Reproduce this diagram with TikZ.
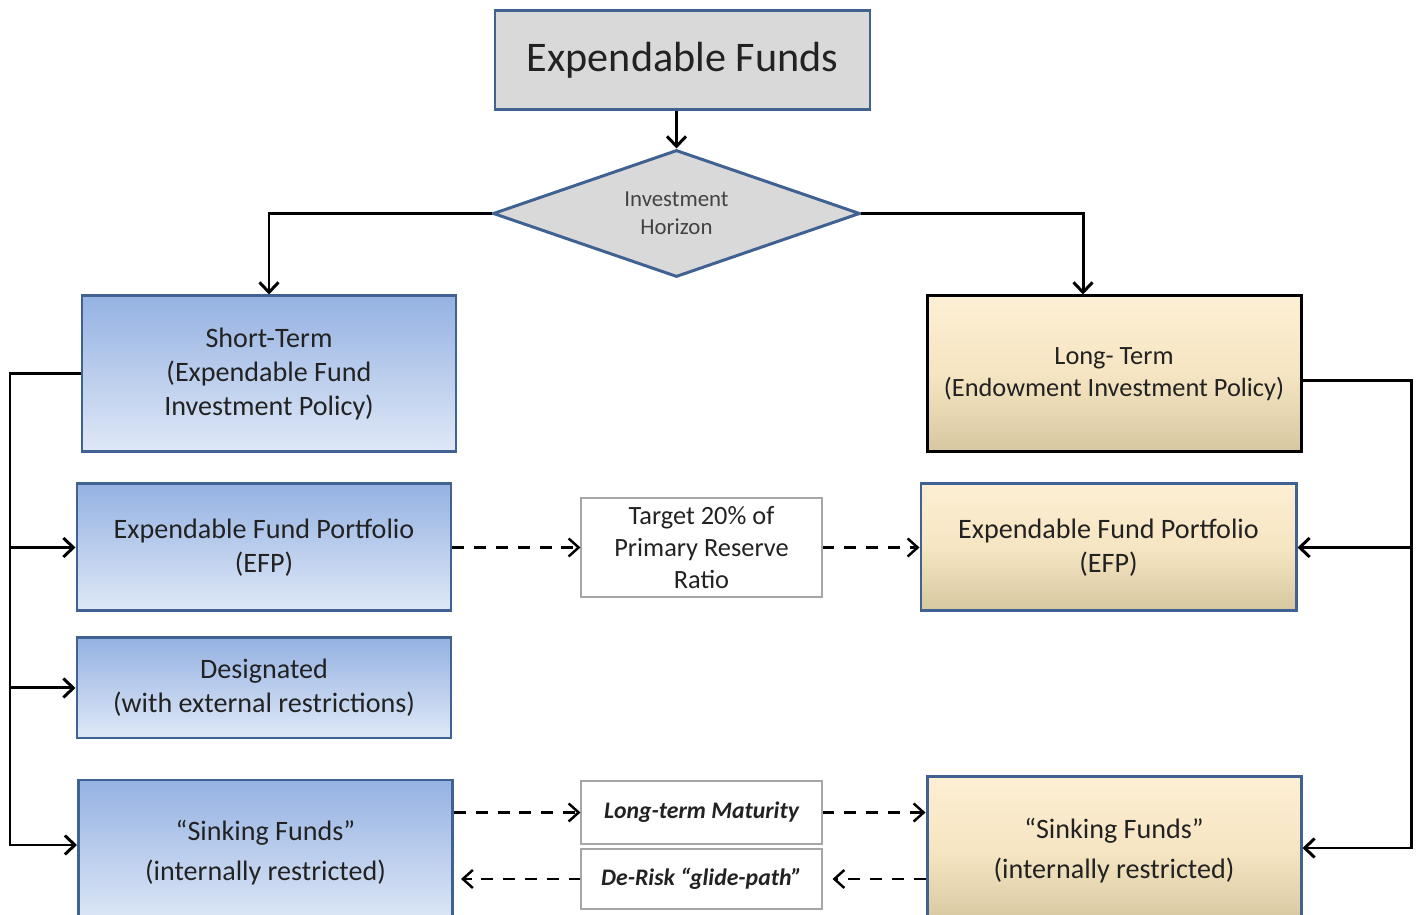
\documentclass[tikz,border=0pt]{standalone}
\usepackage{fontspec}
\setmainfont{Carlito}
\usetikzlibrary{shapes.geometric,arrows.meta}
\definecolor{edgeblue}{RGB}{64,98,146}
\definecolor{boxgray}{RGB}{217,217,217}
\definecolor{bluetop}{RGB}{149,178,226}
\definecolor{bluebot}{RGB}{223,232,247}
\definecolor{tantop}{RGB}{253,239,212}
\definecolor{tanmid}{RGB}{246,229,194}
\definecolor{tanbot}{RGB}{214,199,160}
\definecolor{inkgray}{RGB}{34,34,34}
\begin{document}
\begin{tikzpicture}[
  fundbox/.style={draw=edgeblue,line width=1.7pt,align=center,inner sep=0pt,
    minimum width=7.48cm,text=inkgray,font=\fontsize{16}{19.5}\selectfont},
  shortbox/.style={fundbox,top color=bluetop,bottom color=bluebot},
  longbox/.style={fundbox,top color=tantop,bottom color=tanbot,middle color=tanmid},
  sinkfont/.style={font=\fontsize{16}{22.8}\selectfont},
  notebox/.style={draw=gray!70,line width=0.6pt,fill=white,align=center,inner sep=0pt,
    minimum width=4.82cm,text=inkgray,font=\fontsize{15}{18.2}\selectfont},
  flow/.style={line width=1.7pt,-{Straight Barb[length=2mm,width=3.8mm]}},
  link/.style={line width=1.4pt,dash pattern=on 6.8pt off 5.6pt,
    -{Straight Barb[length=2mm,width=3.6mm]}}
]
\useasboundingbox (0,0) rectangle (28.36,18.3);
% top of the tree
\node[draw=edgeblue,fill=boxgray,line width=1.7pt,minimum width=7.5cm,minimum height=1.98cm,
  text=inkgray,font=\fontsize{24}{28}\selectfont] (funds) at (13.65,17.09) {Expendable Funds};
\node[diamond,aspect=2.9,draw=edgeblue,fill=boxgray,line width=1.7pt,inner sep=0pt,
  minimum width=7.34cm,minimum height=2.54cm,align=center,text=inkgray!85,
  font=\fontsize{13}{16}\selectfont] (horizon) at (13.53,14.03) {Investment\\Horizon};
% short-term side
\node[shortbox,minimum height=3.12cm] (short) at (5.38,10.82) {Short-Term\\(Expendable Fund\\Investment Policy)};
\node[shortbox,minimum height=2.54cm] (efpL) at (5.28,7.35) {Expendable Fund Portfolio\\(EFP)};
\node[shortbox,minimum height=2cm] (desig) at (5.28,4.54) {Designated\\(with external restrictions)};
\node[shortbox,sinkfont,minimum height=2.9cm] (sinkL) at (5.31,1.25) {“Sinking Funds”\\(internally restricted)};
% long-term side
\node[longbox,draw=black,minimum height=3.12cm,font=\fontsize{15}{18.5}\selectfont] (long) at (22.28,10.82) {Long- Term\\(Endowment Investment Policy)};
\node[longbox,minimum width=7.5cm,minimum height=2.54cm] (efpR) at (22.17,7.35) {Expendable Fund Portfolio\\(EFP)};
\node[longbox,sinkfont,minimum height=2.96cm] (sinkR) at (22.28,1.28) {“Sinking Funds”\\(internally restricted)};
% notes in the middle
\node[notebox,minimum height=1.98cm] (target) at (14.03,7.35) {Target 20\% of\\Primary Reserve\\Ratio};
\node[notebox,minimum height=1.26cm,font=\fontsize{13.5}{16}\selectfont\bfseries\itshape] (maturity) at (14.03,2.05) {Long-term Maturity};
\node[notebox,minimum height=1.2cm,font=\fontsize{13.5}{16}\selectfont\bfseries\itshape] (derisk) at (14.03,0.72) {De-Risk “glide-path”};
% solid connectors
\draw[flow] (horizon.north |- funds.south) -- (horizon.north);
\draw[flow] (horizon.west) -| (short.north);
\draw[flow] (horizon.east) -| ([xshift=-6.2mm]long.north);
\coordinate (busL) at (0.2,1.4);
\coordinate (busR) at (28.22,1.34);
\draw[flow] (short.west) -| (busL) -- (busL -| sinkL.west);
\foreach \n in {efpL,desig}
  \draw[flow] (busL |- \n.west) -- (\n.west);
\draw[flow] ([yshift=-1.4mm]long.east) -| (busR) -- (busR -| sinkR.east);
\draw[flow] (busR |- efpR.east) -- (efpR.east);
% dashed connectors
\draw[link] (efpL.east) -- (target.west);
\draw[link] (target.east) -- (efpR.west);
\draw[link] (sinkL.east |- maturity.west) -- (maturity.west);
\draw[link] (maturity.east) -- (maturity.east -| sinkR.west);
\draw[link] (derisk.west) -- ([xshift=1.4mm]derisk.west -| sinkL.east);
\draw[link] (derisk.east -| sinkR.west) -- ([xshift=2mm]derisk.east);
\end{tikzpicture}
\end{document}
